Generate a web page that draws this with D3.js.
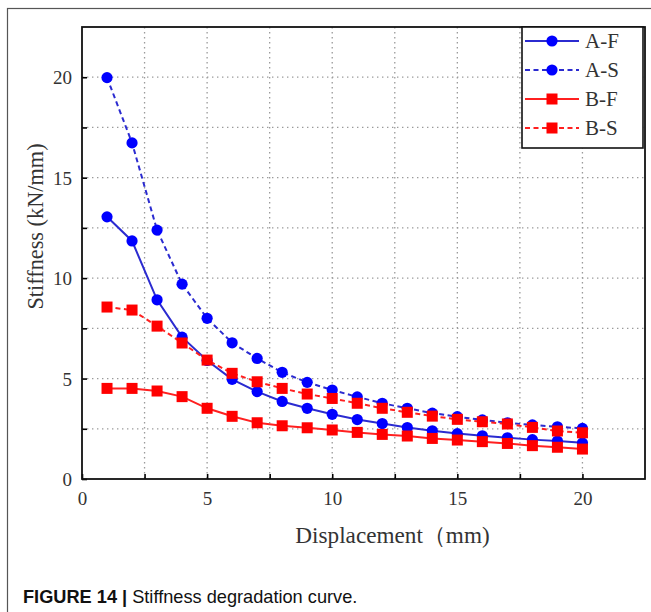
<!DOCTYPE html>
<html>
<head>
<meta charset="utf-8">
<script src="https://cdn.jsdelivr.net/npm/d3@7"></script>
<style>
  body { margin: 0; background: #fff; }
  svg { display: block; }
</style>
</head>
<body>
<svg id="chart" width="651" height="612"></svg>
<script>
// Loading step (mm)
const displacement = [1, 2, 3, 4, 5, 6, 7, 8, 9, 10, 11, 12, 13, 14, 15, 16, 17, 18, 19, 20];

// Stiffness (kN/mm) per specimen
const stiffAF = [13.05, 11.85, 8.92, 7.06, 5.9, 4.96, 4.35, 3.86, 3.52, 3.22, 2.96, 2.76, 2.56, 2.4, 2.26, 2.15, 2.05, 1.96, 1.89, 1.8];
const stiffAS = [19.98, 16.73, 12.39, 9.7, 8.0, 6.78, 6.0, 5.31, 4.81, 4.43, 4.09, 3.77, 3.52, 3.28, 3.1, 2.94, 2.8, 2.69, 2.6, 2.52];
const stiffBF = [4.51, 4.51, 4.38, 4.1, 3.52, 3.12, 2.8, 2.65, 2.55, 2.44, 2.32, 2.22, 2.14, 2.02, 1.94, 1.86, 1.77, 1.66, 1.58, 1.49];
const stiffBS = [8.56, 8.41, 7.61, 6.77, 5.92, 5.26, 4.84, 4.51, 4.23, 4.01, 3.77, 3.52, 3.32, 3.13, 2.97, 2.85, 2.74, 2.57, 2.39, 2.3];

const seriesNames = ["A-F", "A-S", "B-F", "B-S"];
const xTicks = [0, 5, 10, 15, 20];
const yTicks = [0, 5, 10, 15, 20];
const gridSteps = [2.5, 5, 7.5, 10, 12.5, 15, 17.5, 20];

const series = [
  { name: seriesNames[0], values: stiffAF, color: "#0000ff", line: "#2b2bd0", dashed: false, shape: "circle" },
  { name: seriesNames[1], values: stiffAS, color: "#0000ff", line: "#2b2bd0", dashed: true, shape: "circle" },
  { name: seriesNames[2], values: stiffBF, color: "#ff0000", line: "#ff2020", dashed: false, shape: "square" },
  { name: seriesNames[3], values: stiffBS, color: "#ff0000", line: "#ff2020", dashed: true, shape: "square" },
];

const serif = "'Liberation Serif', 'DejaVu Serif', serif";
const svg = d3.select("#chart");

// outer figure frame
svg.append("rect")
  .attr("x", 7.5).attr("y", 8.5)
  .attr("width", 700).attr("height", 700)
  .attr("fill", "none").attr("stroke", "#555").attr("stroke-width", 1.2);

const plot = { left: 82, top: 27, right: 645, bottom: 479 };

const x = d3.scaleLinear().domain([0, 22.5]).range([plot.left, plot.right]);
const y = d3.scaleLinear().domain([0, 22.5]).range([plot.bottom, plot.top]);

// dotted grid
const grid = svg.append("g").attr("stroke", "#9a9a9a").attr("stroke-width", 1.3)
  .attr("stroke-dasharray", "1.4,3.6");
grid.selectAll(".gx").data(gridSteps).join("line")
  .attr("x1", (d) => x(d)).attr("x2", (d) => x(d))
  .attr("y1", plot.top).attr("y2", plot.bottom);
grid.selectAll(".gy").data(gridSteps).join("line")
  .attr("y1", (d) => y(d)).attr("y2", (d) => y(d))
  .attr("x1", plot.left).attr("x2", plot.right);

// axes with inward ticks
const xAxis = d3.axisBottom(x).tickValues(gridSteps.concat([0])).tickSize(-5)
  .tickFormat((d) => (xTicks.includes(d) ? d : ""));
const yAxis = d3.axisLeft(y).tickValues(gridSteps.concat([0])).tickSize(-5)
  .tickFormat((d) => (yTicks.includes(d) ? d : ""));

const gx = svg.append("g").attr("transform", `translate(0,${plot.bottom})`).call(xAxis);
const gy = svg.append("g").attr("transform", `translate(${plot.left},0)`).call(yAxis);
[gx, gy].forEach((g) => {
  g.select(".domain").remove();
  g.selectAll(".tick line").attr("stroke", "#000").attr("stroke-width", 1.6);
  g.selectAll(".tick text").attr("font-family", serif).attr("font-size", 19).attr("fill", "#333");
});
gx.selectAll(".tick text").attr("dy", null).attr("y", 26);
gy.selectAll(".tick text").attr("x", -10).attr("dy", "0.35em");

// plot frame
svg.append("rect")
  .attr("x", plot.left).attr("y", plot.top)
  .attr("width", plot.right - plot.left).attr("height", plot.bottom - plot.top)
  .attr("fill", "none").attr("stroke", "#111").attr("stroke-width", 1.8);

// lines and markers
const line = d3.line().x((d) => x(d[0])).y((d) => y(d[1]));
const drawMarker = (g, s, cx, cy) => {
  if (s.shape === "circle") {
    g.append("circle").attr("cx", cx).attr("cy", cy).attr("r", 5.6).attr("fill", s.color);
  } else {
    g.append("rect").attr("x", cx - 5.5).attr("y", cy - 5.5)
      .attr("width", 11).attr("height", 11).attr("fill", s.color);
  }
};

series.forEach((s) => {
  const pts = displacement.map((d, i) => [d, s.values[i]]);
  const g = svg.append("g");
  g.append("path").datum(pts)
    .attr("d", line).attr("fill", "none")
    .attr("stroke", s.line).attr("stroke-width", 2)
    .attr("stroke-dasharray", s.dashed ? "5,3.5" : null);
  pts.forEach((p) => drawMarker(g, s, x(p[0]), y(p[1])));
});

// legend
const legend = svg.append("g");
legend.append("rect")
  .attr("x", 522).attr("y", plot.top).attr("width", 121).attr("height", 121)
  .attr("fill", "#fff").attr("stroke", "#111").attr("stroke-width", 1.6);
series.forEach((s, i) => {
  const ly = 41 + i * 29;
  legend.append("line")
    .attr("x1", 525).attr("x2", 579).attr("y1", ly).attr("y2", ly)
    .attr("stroke", s.line).attr("stroke-width", 2)
    .attr("stroke-dasharray", s.dashed ? "5,3.5" : null);
  drawMarker(legend, s, 552, ly);
  legend.append("text")
    .attr("x", 585).attr("y", ly).attr("dy", "0.35em")
    .attr("font-family", serif).attr("font-size", 21).attr("fill", "#333")
    .text(s.name);
});

// axis titles
svg.append("text")
  .attr("transform", "translate(43,226.5) rotate(-90)")
  .attr("text-anchor", "middle")
  .attr("font-family", serif).attr("font-size", 22.3).attr("fill", "#333")
  .text("Stiffness (kN/mm)");

svg.append("text")
  .attr("x", 392.5).attr("y", 543)
  .attr("text-anchor", "middle")
  .attr("font-family", serif).attr("font-size", 23.2).attr("fill", "#333")
  .text("Displacement（mm)");

// caption
const cap = svg.append("text")
  .attr("x", 23).attr("y", 603)
  .attr("font-family", "'Liberation Sans', Arial, sans-serif").attr("font-size", 18.2).attr("fill", "#111");
cap.append("tspan").attr("font-weight", "bold").text("FIGURE 14 | ");
cap.append("tspan").text("Stiffness degradation curve.");
</script>
</body>
</html>
